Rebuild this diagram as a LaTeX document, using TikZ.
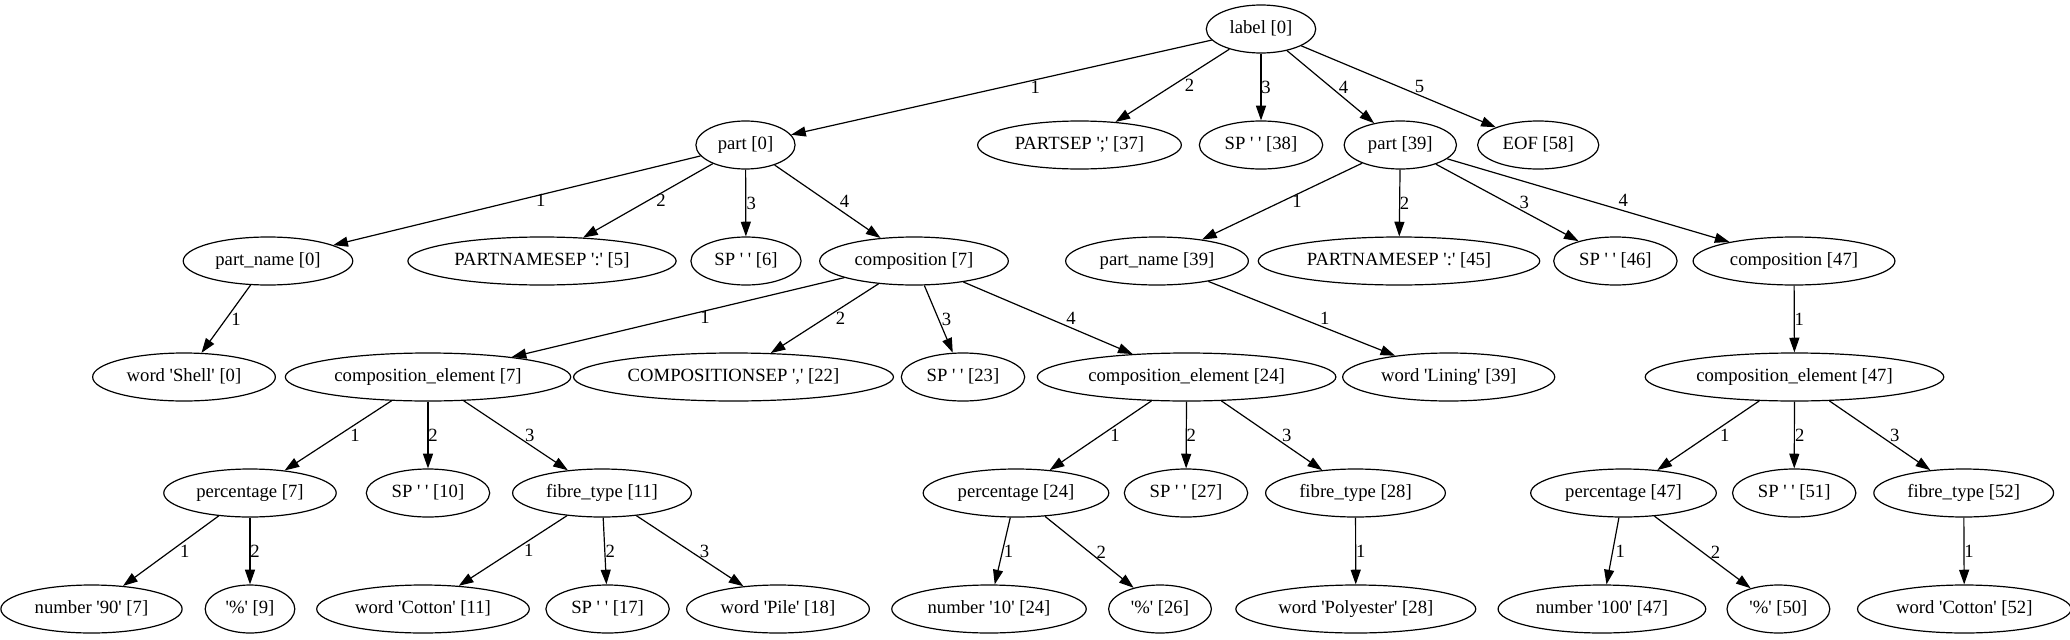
\documentclass[tikz,border=0pt]{standalone}
\usepackage{fontspec}
\newfontfamily\gvfont{Liberation Serif}
\usetikzlibrary{shapes.geometric,arrows.meta}

\begin{document}
\begin{tikzpicture}[x=0.75pt,y=-0.75pt,
        tok/.style={ellipse,draw,line width=0.9pt,inner xsep=5.5pt,inner ysep=2pt,minimum height=36pt,text height=9.5pt,text depth=3pt,font=\gvfont\fontsize{14}{16}\selectfont},
        edge/.style={line width=0.9pt,-{Triangle[length=11pt,width=7.5pt]}},
        num/.style={inner sep=0pt,font=\gvfont\fontsize{14}{16}\selectfont}]
        \useasboundingbox (0,0) rectangle (2070,639);

        % Rank 0
        \node[tok] (lab0) at (1261,29) {label [0]};

        % Rank 1
        \node[tok] (part0) at (745.5,145) {part [0]};
        \node[tok] (partsep37) at (1079.5,145) {PARTSEP ';' [37]};
        \node[tok] (sp38) at (1261,145) {SP ' ' [38]};
        \node[tok] (part39) at (1400.3,145) {part [39]};
        \node[tok] (eof58) at (1538.2,145) {EOF [58]};

        % Rank 2
        \node[tok] (pname0) at (268,261) {part\_name [0]};
        \node[tok] (pnsep5) at (542,261) {PARTNAMESEP ':' [5]};
        \node[tok] (sp6) at (746,261) {SP ' ' [6]};
        \node[tok] (comp7) at (914,261) {composition [7]};
        \node[tok] (pname39) at (1157,261) {part\_name [39]};
        \node[tok] (pnsep45) at (1399,261) {PARTNAMESEP ':' [45]};
        \node[tok] (sp46) at (1615.4,261) {SP ' ' [46]};
        \node[tok] (comp47) at (1794,261) {composition [47]};

        % Rank 3
        \node[tok] (wshell0) at (184,377) {word 'Shell' [0]};
        \node[tok] (cel7) at (428,377) {composition\_element [7]};
        \node[tok] (csep22) at (733.5,377) {COMPOSITIONSEP ',' [22]};
        \node[tok] (sp23) at (963,377) {SP ' ' [23]};
        \node[tok] (cel24) at (1186.6,377) {composition\_element [24]};
        \node[tok] (wlining39) at (1448.7,377) {word 'Lining' [39]};
        \node[tok] (cel47) at (1794.5,377) {composition\_element [47]};

        % Rank 4
        \node[tok] (perc7) at (250,493) {percentage [7]};
        \node[tok] (sp10) at (428,493) {SP ' ' [10]};
        \node[tok] (fib11) at (602,493) {fibre\_type [11]};
        \node[tok] (perc24) at (1016,493) {percentage [24]};
        \node[tok] (sp27) at (1186,493) {SP ' ' [27]};
        \node[tok] (fib28) at (1355.5,493) {fibre\_type [28]};
        \node[tok] (perc47) at (1623.5,493) {percentage [47]};
        \node[tok] (sp51) at (1794.2,493) {SP ' ' [51]};
        \node[tok] (fib52) at (1963.7,493) {fibre\_type [52]};

        % Rank 5
        \node[tok] (num7) at (91.5,609) {number '90' [7]};
        \node[tok] (pct9) at (250,609) {'\%' [9]};
        \node[tok] (wcot11) at (423,609) {word 'Cotton' [11]};
        \node[tok] (sp17) at (607.6,609) {SP ' ' [17]};
        \node[tok] (wpile18) at (778,609) {word 'Pile' [18]};
        \node[tok] (num24) at (989,609) {number '10' [24]};
        \node[tok] (pct26) at (1160,609) {'\%' [26]};
        \node[tok] (wpoly28) at (1355.8,609) {word 'Polyester' [28]};
        \node[tok] (num47) at (1601.9,609) {number '100' [47]};
        \node[tok] (pct50) at (1778.4,609) {'\%' [50]};
        \node[tok] (wcot52) at (1964.3,609) {word 'Cotton' [52]};

        % label -> children
        \draw[edge] (lab0) -- node[num,shift={(34,0)}] {1} (part0);
        \draw[edge] (lab0) -- node[num,shift={(17,0)}] {2} (partsep37);
        \draw[edge] (lab0) -- node[num,shift={(5,0)}] {3} (sp38);
        \draw[edge] (lab0) -- node[num,shift={(13,0)}] {4} (part39);
        \draw[edge] (lab0) -- node[num,shift={(21,0)}] {5} (eof58);

        % part -> children
        \draw[edge] (part0) -- node[num,shift={(24,0)}] {1} (pname0);
        \draw[edge] (part0) -- node[num,shift={(13,0)}] {2} (pnsep5);
        \draw[edge] (part0) -- node[num,shift={(5.5,0)}] {3} (sp6);
        \draw[edge] (part0) -- node[num,shift={(17,0)}] {4} (comp7);
        \draw[edge] (part39) -- node[num,shift={(15,0)}] {1} (pname39);
        \draw[edge] (part39) -- node[num,shift={(5,0)}] {2} (pnsep45);
        \draw[edge] (part39) -- node[num,shift={(17,0)}] {3} (sp46);
        \draw[edge] (part39) -- node[num,shift={(35,0)}] {4} (comp47);

        % part_name and composition -> children
        \draw[edge] (pname0) -- node[num,shift={(10,0)}] {1} (wshell0);
        \draw[edge] (comp7) -- node[num,shift={(27,0)}] {1} (cel7);
        \draw[edge] (comp7) -- node[num,shift={(16,0)}] {2} (csep22);
        \draw[edge] (comp7) -- node[num,shift={(8,0)}] {3} (sp23);
        \draw[edge] (comp7) -- node[num,shift={(23,0)}] {4} (cel24);
        \draw[edge] (pname39) -- node[num,shift={(23,0)}] {1} (wlining39);
        \draw[edge] (comp47) -- node[num,shift={(5,0)}] {1} (cel47);

        % composition_element -> children
        \draw[edge] (cel7) -- node[num,shift={(17,0)}] {1} (perc7);
        \draw[edge] (cel7) -- node[num,shift={(5,0)}] {2} (sp10);
        \draw[edge] (cel7) -- node[num,shift={(14,0)}] {3} (fib11);
        \draw[edge] (cel24) -- node[num,shift={(14.5,0)}] {1} (perc24);
        \draw[edge] (cel24) -- node[num,shift={(5,0)}] {2} (sp27);
        \draw[edge] (cel24) -- node[num,shift={(15,0)}] {3} (fib28);
        \draw[edge] (cel47) -- node[num,shift={(16.5,0)}] {1} (perc47);
        \draw[edge] (cel47) -- node[num,shift={(5.5,0)}] {2} (sp51);
        \draw[edge] (cel47) -- node[num,shift={(15,0)}] {3} (fib52);

        % percentage and fibre_type -> children
        \draw[edge] (perc7) -- node[num,shift={(14,0)}] {1} (num7);
        \draw[edge] (perc7) -- node[num,shift={(5,0)}] {2} (pct9);
        \draw[edge] (fib11) -- node[num,shift={(16,0)}] {1} (wcot11);
        \draw[edge] (fib11) -- node[num,shift={(5.5,0)}] {2} (sp17);
        \draw[edge] (fib11) -- node[num,shift={(14.5,0)}] {3} (wpile18);
        \draw[edge] (perc24) -- node[num,shift={(6,0)}] {1} (num24);
        \draw[edge] (perc24) -- node[num,shift={(12,0)}] {2} (pct26);
        \draw[edge] (fib28) -- node[num,shift={(5,0)}] {1} (wpoly28);
        \draw[edge] (perc47) -- node[num,shift={(7.5,0)}] {1} (num47);
        \draw[edge] (perc47) -- node[num,shift={(13,0)}] {2} (pct50);
        \draw[edge] (fib52) -- node[num,shift={(5,0)}] {1} (wcot52);
      \end{tikzpicture}
\end{document}
